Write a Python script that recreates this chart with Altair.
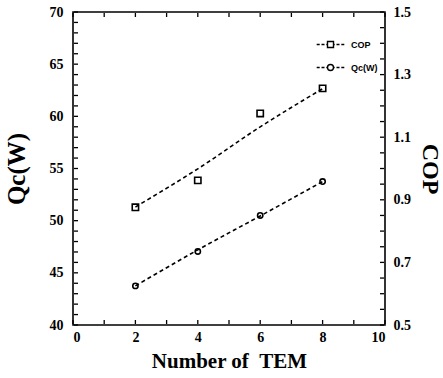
import altair as alt
import pandas as pd

# ---- data ----
n_tem = [2, 4, 6, 8]
cop = [0.876, 0.962, 1.176, 1.256]
cop_fit = [0.877, 0.999, 1.133, 1.255]
qc = [43.75, 47.05, 50.5, 53.75]
qc_fit = [43.75, 47.2, 50.45, 53.75]

x_labels = [0, 2, 4, 6, 8, 10]
x_ticks = list(range(0, 11))
qc_labels = [40, 45, 50, 55, 60, 65, 70]
qc_ticks = list(range(40, 71))
cop_labels = [0.5, 0.7, 0.9, 1.1, 1.3, 1.5]
cop_ticks = [round(0.5 + 0.05 * i, 2) for i in range(21)]
series = ["COP", "Qc(W)"]

W, H = 312, 313

df_qc = pd.DataFrame({"n": n_tem, "v": qc, "fit": qc_fit})
df_cop = pd.DataFrame({"n": n_tem, "v": cop, "fit": cop_fit})
df_leg = pd.DataFrame({"n": n_tem[:2], "v": qc[:2], "series": series})
df_xt = pd.DataFrame({"t": x_ticks, "lo": [40] * len(x_ticks), "hi": [70] * len(x_ticks)})
df_qt = pd.DataFrame({"t": qc_ticks, "lo": [0] * len(qc_ticks)})
df_ct = pd.DataFrame({"t": cop_ticks, "hi": [10] * len(cop_ticks)})

xs = alt.Scale(domain=[0, 10], nice=False, zero=False)
qs = alt.Scale(domain=[40, 70], nice=False, zero=False)
cs = alt.Scale(domain=[0.5, 1.5], nice=False, zero=False)

serif = "Liberation Serif"
lab = dict(labelFont=serif, labelFontWeight="bold", labelFontSize=14, labelColor="black")

x_main = alt.X("n:Q", scale=xs,
               axis=alt.Axis(values=x_labels, format="d", ticks=False, domain=False,
                             grid=False, labelPadding=5,
                             title="Number of\u00a0\u00a0TEM",
                             titleFont=serif, titleFontSize=21, titleFontWeight="bold",
                             titleColor="black", titlePadding=6, **lab))

dash = [4, 3]
# half-length tick paths so that each tick only points into the plot
T_LEFT = "M0,0H1"
T_RIGHT = "M-1,0H0"
T_BOTTOM = "M0,0V-1"
T_TOP = "M0,0V1"
TK = dict(color="black", filled=False, size=64, strokeWidth=1.3, opacity=1)


def X(f):
    return alt.X(f, scale=xs)


def YQ(f):
    return alt.Y(f, scale=qs, axis=None)


def YC(f):
    return alt.Y(f, scale=cs, axis=None)


qc_y = alt.Y("v:Q", scale=qs,
             axis=alt.Axis(values=qc_labels, ticks=False, domain=False, grid=False,
                           labelPadding=10, title="Qc(W)", titleFont=serif,
                           titleFontSize=25, titleFontWeight="bold", titleColor="black",
                           titlePadding=20, **lab))
cop_y = alt.Y("v:Q", scale=cs,
              axis=alt.Axis(values=cop_labels, format=".1f", orient="right", ticks=False,
                            domain=False, grid=False, labelPadding=8, title="COP",
                            titleAngle=90, titleFont=serif, titleFontSize=24,
                            titleFontWeight="bold", titleColor="black", titlePadding=7, **lab))

qc_pts = alt.Chart(df_qc).mark_point(shape="circle", filled=False, color="black",
                                     size=28, strokeWidth=1.6, opacity=1).encode(x=x_main, y=qc_y)
qc_line = alt.Chart(df_qc).mark_line(color="black", strokeDash=dash, strokeWidth=1.6,
                                     interpolate="monotone").encode(x=X("n:Q"), y=YQ("fit:Q"))
cop_pts = alt.Chart(df_cop).mark_point(shape="square", filled=False, color="black",
                                       size=40, strokeWidth=1.6, opacity=1).encode(
    x=X("n:Q"), y=cop_y)
cop_line = alt.Chart(df_cop).mark_line(color="black", strokeDash=dash, strokeWidth=1.6,
                                       interpolate="monotone").encode(x=X("n:Q"), y=YC("fit:Q"))

left_ticks = alt.Chart(df_qt).mark_point(shape=T_LEFT, xOffset=1, **TK).encode(
    x=X("lo:Q"), y=YQ("t:Q"))
right_ticks = alt.Chart(df_ct).mark_point(shape=T_RIGHT, xOffset=-1, **TK).encode(
    x=X("hi:Q"), y=YC("t:Q"))
bottom_ticks = alt.Chart(df_xt).mark_point(shape=T_BOTTOM, yOffset=-1, **TK).encode(
    x=X("t:Q"), y=YQ("lo:Q"))
top_ticks = alt.Chart(df_xt).mark_point(shape=T_TOP, yOffset=1, **TK).encode(
    x=X("t:Q"), y=YQ("hi:Q"))

cop_sym = "M-4.6,0H-3.6M-3,0H-2M-1.4,0H-1M-1,-1H1V1H-1ZM1,0H1.4M2,0H3M3.6,0H4.6"
qc_sym = ("M-4.6,0H-3.6M-3,0H-2M-1.4,0H-1M-1,0A1,1,0,1,0,1,0A1,1,0,1,0,-1,0M1,0H1.4"
          "M2,0H3M3.6,0H4.6")
legend_layer = alt.Chart(df_leg).mark_point(opacity=0).encode(
    x=X("n:Q"), y=YQ("v:Q"),
    shape=alt.Shape("series:N", scale=alt.Scale(domain=series, range=[cop_sym, qc_sym]),
                    legend=alt.Legend(title=None, orient="none", legendX=253, legendY=28,
                                      symbolSize=36, symbolStrokeColor="black",
                                      symbolFillColor="transparent", symbolStrokeWidth=1.4,
                                      symbolOpacity=1, labelFont="Liberation Sans",
                                      labelFontWeight="bold", labelFontSize=9,
                                      labelColor="black", labelOffset=16, rowPadding=10)),
)

chart = alt.layer(
    qc_pts, cop_pts, qc_line, cop_line,
    left_ticks, right_ticks, bottom_ticks, top_ticks, legend_layer
).resolve_scale(y="independent").properties(
    width=W, height=H,
    autosize=alt.AutoSizeParams(type="none"),
    padding={"left": 73, "top": 12, "right": 58, "bottom": 53},
    background="white",
).configure_view(stroke="black", strokeWidth=1.6)

chart.save("out.html", embed_options={"renderer": "svg", "actions": False})
